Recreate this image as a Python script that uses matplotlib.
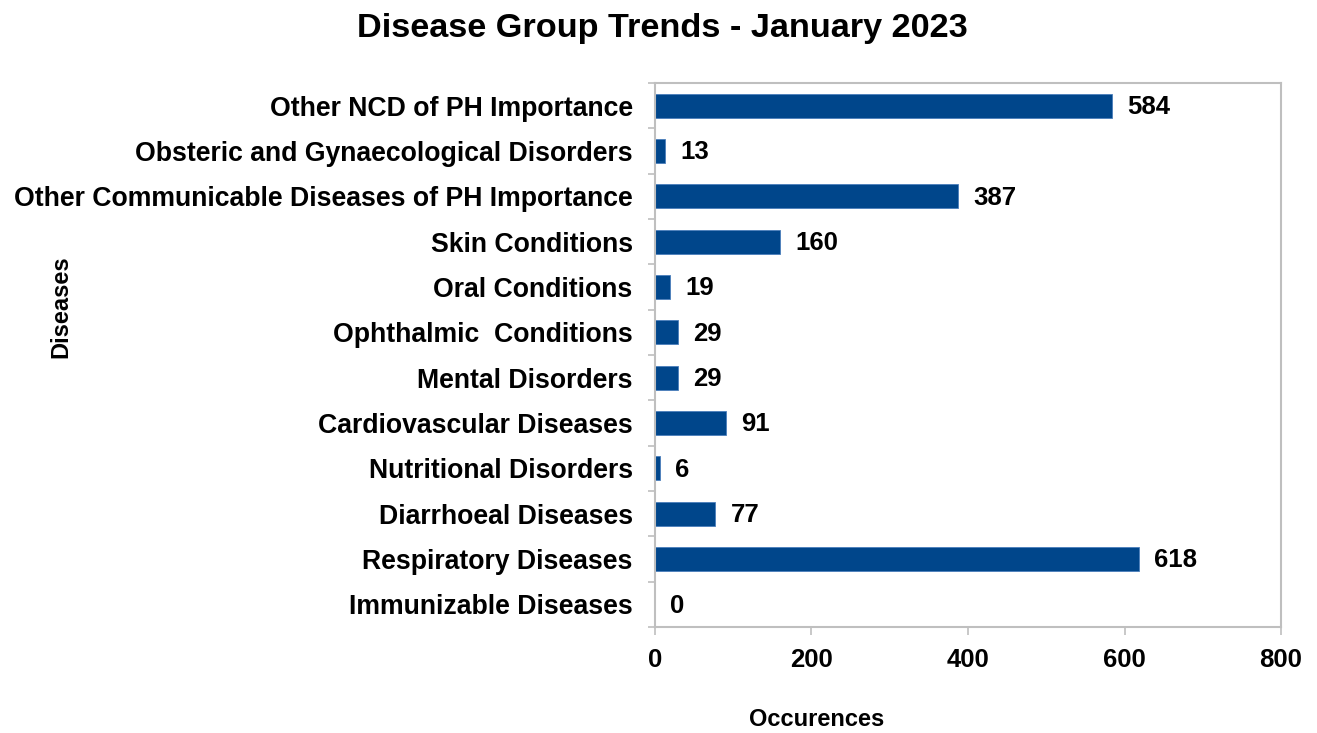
import matplotlib.pyplot as plt
import numpy as np

plt.rcParams['font.family'] = ['Liberation Sans', 'DejaVu Sans']

categories = [
    "Immunizable Diseases",
    "Respiratory Diseases",
    "Diarrhoeal Diseases",
    "Nutritional Disorders",
    "Cardiovascular Diseases",
    "Mental Disorders",
    "Ophthalmic  Conditions",
    "Oral Conditions",
    "Skin Conditions",
    "Other Communicable Diseases of PH Importance",
    "Obsteric and Gynaecological Disorders",
    "Other NCD of PH Importance",
]
counts = [0, 618, 77, 6, 91, 29, 29, 19, 160, 387, 13, 584]
x_ticks = [0, 200, 400, 600, 800]

bar_color = "#00468B"
grid_color = "#BFBFBF"

fig = plt.figure(figsize=(13.17, 7.33), dpi=100)
ax = fig.add_axes([0.4973, 0.1446, 0.4754, 0.7422])

y = np.arange(len(categories))
ax.barh(y, counts, height=0.53, color=bar_color, edgecolor="#4A7EBB", linewidth=0.6)

for yi, v in zip(y, counts):
    ax.annotate(f"{v}", (v, yi), textcoords="offset points", xytext=(11, -1),
                ha="left", va="center", fontsize=18.5, fontweight="bold")

ax.set_xlim(0, 800)
ax.set_ylim(-0.5, len(categories) - 0.5)
ax.set_xticks(x_ticks)
ax.set_xticklabels([str(t) for t in x_ticks], fontsize=18.5, fontweight="bold")
ax.set_yticks(y)
ax.set_yticklabels(categories, fontsize=19.2, fontweight="bold")
ax.set_yticks(np.arange(-0.5, len(categories), 1), minor=True)

ax.tick_params(axis="y", which="major", length=0, pad=16)
ax.tick_params(axis="y", which="minor", length=5, color=grid_color, width=1.2)
ax.tick_params(axis="x", which="major", length=6, color=grid_color, width=1.2, pad=9)

for s in ax.spines.values():
    s.set_color(grid_color)
    s.set_linewidth(1.5)

fig.text(0.62, 1 - 720 / 733, "Occurences", ha="center", va="center",
         fontsize=17, fontweight="bold")
fig.text(0.046, 1 - 307 / 733, "Diseases", rotation=90, ha="center", va="center",
         fontsize=17, fontweight="bold")
fig.text(0.503, 1 - 28 / 733, "Disease Group Trends - January 2023", ha="center",
         va="center", fontsize=24.7, fontweight="bold")

fig.savefig("out.png", dpi=100)
